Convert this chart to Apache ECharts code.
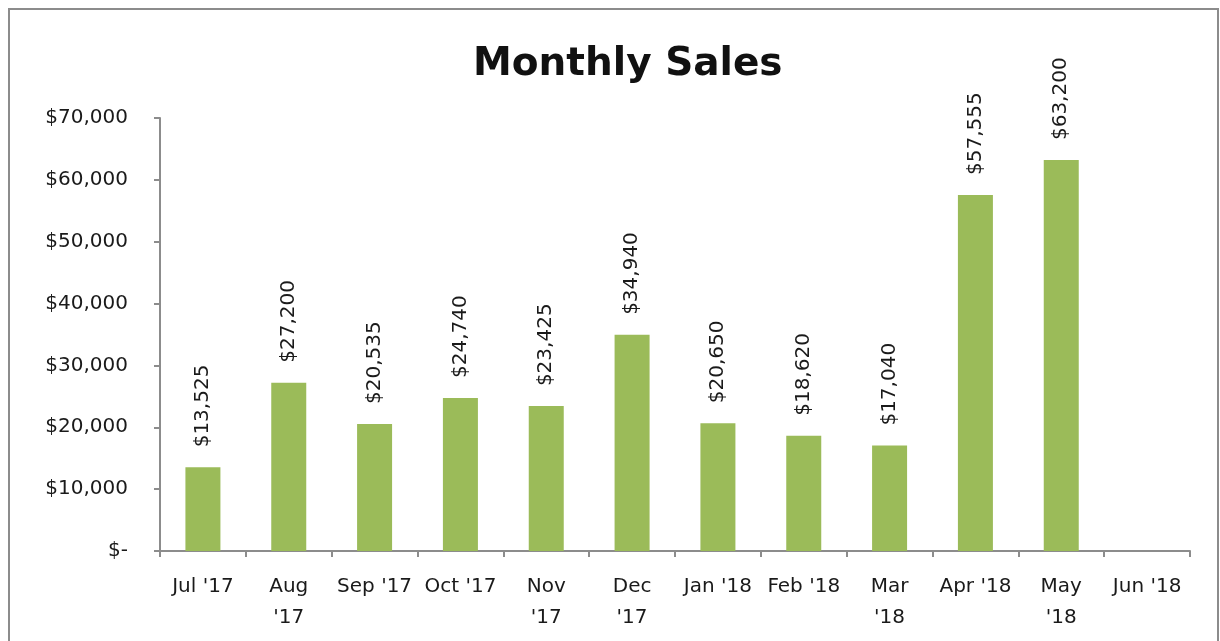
<!DOCTYPE html>
<html lang="en">
<head>
    <meta charset="UTF-8">
    <title>Monthly Sales</title>
    <script src="https://cdn.jsdelivr.net/npm/echarts@6/dist/echarts.min.js"></script>
    <style>
        html, body {
            margin: 0;
            padding: 0;
            background: #fff;
            overflow: hidden;
        }
        #frame {
            position: absolute;
            left: 8px;
            top: 8px;
            width: 1207px;
            height: 700px;
            border: 2px solid #8c8c8c;
        }
        #chart {
            position: absolute;
            left: 0;
            top: 0;
            width: 1220px;
            height: 641px;
        }
    </style>
</head>
<body>
    <div id="frame"></div>
    <div id="chart"></div>

    <script>
        // months as shown on the axis (some wrap to two lines)
        const months = ["Jul '17", "Aug\n'17", "Sep '17", "Oct '17", "Nov\n'17", "Dec\n'17",
            "Jan '18", "Feb '18", "Mar\n'18", "Apr '18", "May\n'18", "Jun '18"];
        const sales = [13525, 27200, 20535, 24740, 23425, 34940, 20650, 18620, 17040, 57555, 63200, null];
        const yTicks = [0, 10000, 20000, 30000, 40000, 50000, 60000, 70000];

        const font = 'DejaVu Sans';
        const money = v => v === 0 ? '$-' : '$' + v.toLocaleString('en-US');

        const chart = echarts.init(document.getElementById('chart'));

        chart.setOption({
            animation: false,
            title: {
                text: 'Monthly Sales',
                left: 468,
                top: 40,
                textStyle: {
                    fontFamily: font,
                    fontSize: 39,
                    fontWeight: 'bold',
                    color: '#111'
                }
            },
            grid: {
                left: 160,
                right: 30,
                top: 118,
                bottom: 90
            },
            xAxis: {
                type: 'category',
                data: months,
                axisLine: { lineStyle: { color: '#8c8c8c', width: 2 } },
                axisTick: { show: true, length: 6, lineStyle: { color: '#8c8c8c', width: 2 } },
                axisLabel: {
                    interval: 0,
                    margin: 20,
                    fontFamily: font,
                    fontSize: 20,
                    lineHeight: 31,
                    color: '#1a1a1a'
                }
            },
            yAxis: {
                type: 'value',
                min: yTicks[0],
                max: yTicks[yTicks.length - 1],
                interval: 10000,
                axisLine: { show: true, lineStyle: { color: '#8c8c8c', width: 2 } },
                axisTick: { show: true, length: 6, lineStyle: { color: '#8c8c8c', width: 2 } },
                splitLine: { show: false },
                axisLabel: {
                    margin: 32,
                    fontFamily: font,
                    fontSize: 20,
                    color: '#1a1a1a',
                    formatter: money
                }
            },
            series: [{
                type: 'bar',
                data: sales,
                barWidth: 35,
                itemStyle: { color: '#9bbb59' },
                label: {
                    show: true,
                    position: 'top',
                    rotate: 90,
                    align: 'left',
                    verticalAlign: 'middle',
                    distance: 20,
                    fontFamily: font,
                    fontSize: 20,
                    color: '#1a1a1a',
                    formatter: p => money(p.value)
                }
            }]
        });
    </script>
</body>
</html>
